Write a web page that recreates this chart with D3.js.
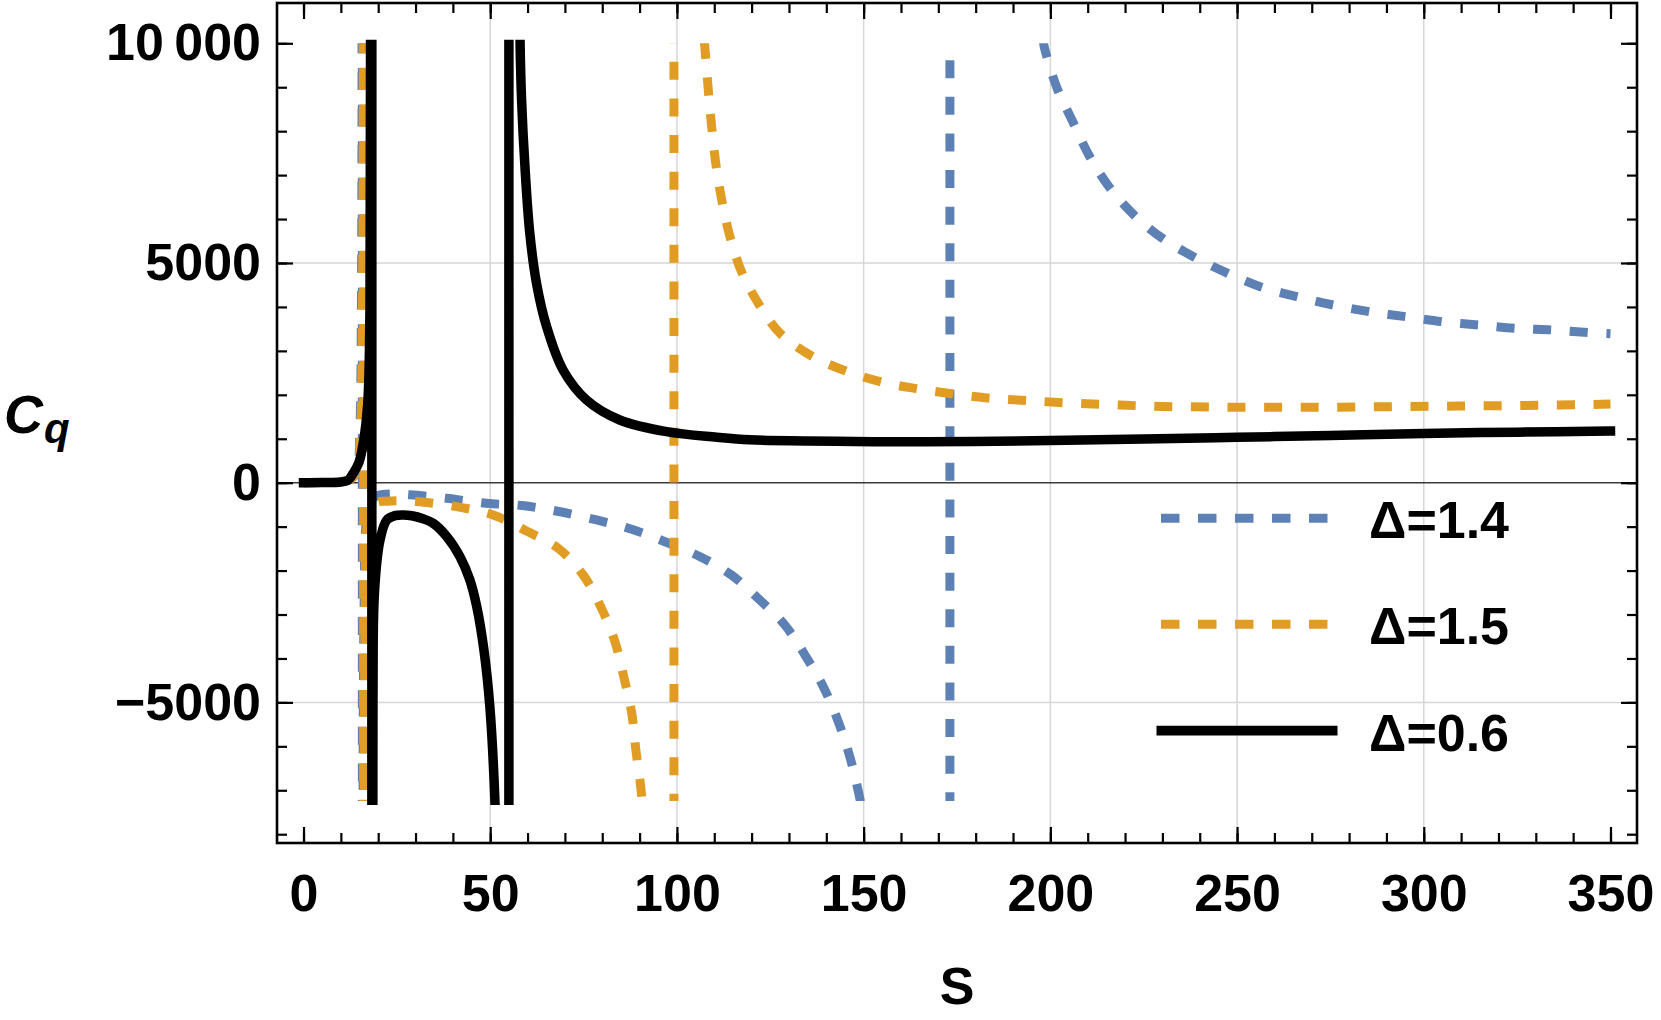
<!DOCTYPE html>
<html>
<head>
<meta charset="utf-8">
<script src="https://cdn.jsdelivr.net/npm/d3@7"></script>
<style>
  html, body { margin: 0; padding: 0; background: #fff; }
  svg text { font-family: "Liberation Sans", Arial, sans-serif; font-weight: bold; fill: #000; }
</style>
</head>
<body>
<svg id="chart" width="1661" height="1020"></svg>
<script>
// ---------------- data ----------------
const xMajorTicks = [0, 50, 100, 150, 200, 250, 300, 350];
const xMinorTicks = d3.range(0, 360, 10);
const yMajorTicks = [-5000, 0, 5000, 10000];
const yTickLabels = ["\u22125000", "0", "5000", "10\u2009000"];
const yMinorTicks = d3.range(-8000, 11000, 1000);
const xGrid = [50, 100, 150, 200, 250, 300];
const yGrid = [-5000, 5000];

const seriesNames = ["\u0394=1.4", "\u0394=1.5", "\u0394=0.6"];
const seriesColors = ["#5E81B5", "#E19C24", "#000000"];

// Δ = 1.4  (values beyond the plot range are clipped, as in the original)
const delta14 = [
  [0,0],[5,3],[10,25],[13,100],[14.5,380],[15.1,1200],[15.5,4000],[15.7,20000],
  [15.75,60000],[15.75,20000],[15.75,-20000],[15.75,-60000],
  [15.9,-20000],[16.2,-3000],[16.8,-900],[17.8,-450],[19.6,-300],[24,-255],[28.5,-275],
  [38.3,-355],[49,-469],[58.5,-520],[68,-650],[78.5,-849],[87.9,-1061],[96.8,-1343],[106.2,-1684],
  [114.6,-2101],[122.2,-2670],[128.9,-3239],[134.3,-3922],[139.2,-4643],[143.2,-5439],[146.3,-6237],
  [148.6,-7033],[150.3,-7800],[153,-9500],[160,-14000],
  [173.1,-60000],[173.1,-20000],[173.1,20000],[173.1,60000],
  [190,20000],[198.2,10000],[198.8,9773],[201.8,8977],[206,8217],[210.3,7458],
  [215.7,6737],[222.4,6093],[230,5563],[238.3,5144],[247.5,4766],[256.2,4461],[266,4233],
  [275.7,4044],[285.5,3892],[295.2,3778],[305,3664],[314.7,3589],[324.5,3514],[334.7,3475],
  [344.5,3414],[350,3390]
];

// Δ = 1.5
const delta15 = [
  [0,0],[5,3],[10,25],[13,100],[14.5,350],[15.3,1200],[15.8,4000],[16.05,20000],
  [16.1,60000],[16.1,20000],[16.1,-20000],[16.1,-60000],
  [16.2,-20000],[16.5,-3000],[17,-1000],[18,-600],[19.5,-450],[22.3,-420],[26,-410],
  [31.2,-435],[41,-546],[50.8,-735],[59.7,-1100],[68.2,-1493],[74.9,-2101],[79.8,-2859],[83.4,-3619],
  [85.8,-4430],[87.9,-5249],[89,-6084],[90.3,-6919],[91,-7600],[92.5,-10000],[95,-16000],
  [99.2,-60000],[99.2,-20000],[99.2,20000],[99.2,60000],
  [104,20000],[107.1,10300],[107.5,9887],[108.4,8938],[109.3,8103],[110.4,7269],
  [112,6434],[114.2,5599],[117.3,4802],[121.8,4083],[127.6,3400],[135.6,2906],[144.5,2565],
  [154.4,2299],[164.2,2140],[174,2020],[183.8,1921],[193.6,1870],[203.5,1821],[213.5,1784],
  [223.2,1753],[233.1,1730],[243,1723],[253,1716],[263,1716],[272.7,1716],[282.5,1723],
  [292.6,1730],[302.5,1738],[312.3,1746],[322.1,1753],[331.8,1761],[342,1776],[350,1790]
];

// Δ = 0.6
const delta06 = [
  [0,0],[5,2],[10,15],[12,60],[13.3,213],[14.8,450],[16,900],[17.2,1800],[17.8,4000],[18.2,20000],
  [18.3,60000],[18.3,20000],[18.3,-20000],[18.3,-60000],
  [18.4,-20000],[18.6,-5000],[19,-2500],[20.5,-1300],[22.3,-850],[24.5,-750],
  [26.7,-735],[29,-752],[32,-820],[34.7,-924],[38.5,-1240],[41.9,-1684],[44.5,-2200],[46.4,-2822],[48.3,-3800],
  [49.9,-5098],[51.3,-7335],[52.5,-12000],[54,-25000],
  [55,-60000],[55,-20000],[55,20000],[55,60000],
  [57,30000],[57.6,15000],[58,10000],[58.4,8708],[59.3,7193],[60.6,5676],[62.4,4538],
  [65.1,3551],[69.5,2565],[75.8,1882],[84.7,1427],[97.2,1161],[110.6,1035],[119.5,975],[135,950],
  [152.6,933],[165,930],[179.3,935],[200,962],[225,995],[250,1033],[275,1075],[300,1122],
  [325,1150],[350,1177]
];
const seriesData = [delta14, delta15, delta06];

// ---------------- layout ----------------
const svg = d3.select("#chart");
const frame = { left: 277, right: 1637, top: 3, bottom: 843 };
const xDomain = [-7.1, 357.1];
const yDomain = [-8200, 10917];
const clipRange = [-7335, 10000];

const x = d3.scaleLinear().domain(xDomain).range([frame.left, frame.right]);
const y = d3.scaleLinear().domain(yDomain).range([frame.bottom, frame.top]);

// grid lines
const grid = svg.append("g");
grid.selectAll("line.gx").data(xGrid).join("line")
  .attr("x1", d => x(d)).attr("x2", d => x(d))
  .attr("y1", frame.top).attr("y2", frame.bottom)
  .attr("stroke", "#d6d6d6").attr("stroke-width", 1.5);
grid.selectAll("line.gy").data(yGrid).join("line")
  .attr("y1", d => y(d)).attr("y2", d => y(d))
  .attr("x1", frame.left).attr("x2", frame.right)
  .attr("stroke", "#d6d6d6").attr("stroke-width", 1.5);

// zero axis
svg.append("line")
  .attr("x1", frame.left).attr("x2", frame.right)
  .attr("y1", y(0)).attr("y2", y(0))
  .attr("stroke", "#3a3a3a").attr("stroke-width", 1.5);

// clips: solid line keeps its square cap, dashed lines cut at the range
const defs = svg.append("defs");
defs.append("clipPath").attr("id", "clipSolid").append("rect")
  .attr("x", frame.left).attr("width", frame.right - frame.left)
  .attr("y", y(clipRange[1]) - 3.5)
  .attr("height", y(clipRange[0]) - y(clipRange[1]) + 3.5);
defs.append("clipPath").attr("id", "clipDashed").append("rect")
  .attr("x", frame.left).attr("width", frame.right - frame.left)
  .attr("y", y(clipRange[1]))
  .attr("height", y(clipRange[0]) - y(clipRange[1]) - 4);

const line = d3.line().x(d => x(d[0])).y(d => y(d[1])).curve(d3.curveCatmullRom.alpha(0.5));
const curves = svg.append("g");
seriesData.forEach((data, i) => {
  const solid = i === 2;
  curves.append("path")
    .attr("clip-path", solid ? "url(#clipSolid)" : "url(#clipDashed)")
    .attr("d", line(data))
    .attr("fill", "none")
    .attr("stroke", seriesColors[i])
    .attr("stroke-width", solid ? 9.5 : 9)
    .attr("stroke-linejoin", "round")
    .attr("stroke-linecap", solid ? "square" : "butt")
    .attr("stroke-dasharray", solid ? null : "18,18.6");
});

// ---------------- axes (frame with inward ticks) ----------------
function styleAxis(g) {
  g.select(".domain").remove();
  g.selectAll(".tick line").attr("stroke", "#000").attr("stroke-width", 2.2);
  g.selectAll(".tick text").attr("font-size", 52).attr("fill", "#000")
    .attr("font-family", "'Liberation Sans', Arial, sans-serif").attr("font-weight", "bold");
}
const H = frame.bottom - frame.top, W = frame.right - frame.left;

// bottom
svg.append("g").attr("transform", `translate(0,${frame.bottom})`)
  .call(d3.axisBottom(x).tickValues(xMinorTicks).tickSize(-10).tickFormat(""))
  .call(styleAxis);
svg.append("g").attr("transform", `translate(0,${frame.bottom})`)
  .call(d3.axisBottom(x).tickValues(xMajorTicks).tickSize(-16).tickPadding(31).tickFormat(d3.format("d")))
  .call(styleAxis);
// top
svg.append("g").attr("transform", `translate(0,${frame.top})`)
  .call(d3.axisTop(x).tickValues(xMinorTicks).tickSize(-10).tickFormat(""))
  .call(styleAxis);
svg.append("g").attr("transform", `translate(0,${frame.top})`)
  .call(d3.axisTop(x).tickValues(xMajorTicks).tickSize(-16).tickFormat(""))
  .call(styleAxis);
// left
svg.append("g").attr("transform", `translate(${frame.left},0)`)
  .call(d3.axisLeft(y).tickValues(yMinorTicks).tickSize(-10).tickFormat(""))
  .call(styleAxis);
svg.append("g").attr("transform", `translate(${frame.left},0)`)
  .call(d3.axisLeft(y).tickValues(yMajorTicks).tickSize(-16).tickPadding(16)
    .tickFormat((d, i) => yTickLabels[i]))
  .call(styleAxis);
// right
svg.append("g").attr("transform", `translate(${frame.right},0)`)
  .call(d3.axisRight(y).tickValues(yMinorTicks).tickSize(-10).tickFormat(""))
  .call(styleAxis);
svg.append("g").attr("transform", `translate(${frame.right},0)`)
  .call(d3.axisRight(y).tickValues(yMajorTicks).tickSize(-16).tickFormat(""))
  .call(styleAxis);

// frame
svg.append("rect")
  .attr("x", frame.left).attr("y", frame.top).attr("width", W).attr("height", H)
  .attr("fill", "none").attr("stroke", "#000").attr("stroke-width", 2.6);

// axis titles
svg.append("text")
  .attr("x", (frame.left + frame.right) / 2).attr("y", 1004)
  .attr("text-anchor", "middle").attr("font-size", 52).text("S");
const cq = svg.append("text").attr("x", 4).attr("y", 433).attr("font-style", "italic");
cq.append("tspan").attr("font-size", 54).text("C");
cq.append("tspan").attr("font-size", 42).attr("dy", 10).attr("dx", 1).text("q");

// ---------------- legend ----------------
const legendRows = [518.3, 624.3, 730.7];
const legend = svg.append("g");
seriesNames.forEach((name, i) => {
  const isSolid = i === 2;
  legend.append("line")
    .attr("x1", isSolid ? 1156.5 : 1161).attr("x2", isSolid ? 1337.5 : 1328)
    .attr("y1", legendRows[i]).attr("y2", legendRows[i])
    .attr("stroke", seriesColors[i]).attr("stroke-width", isSolid ? 9.7 : 9)
    .attr("stroke-dasharray", isSolid ? null : "18.5,18.5");
  legend.append("text")
    .attr("x", 1369).attr("y", legendRows[i] + 20)
    .attr("font-size", 52).text(name);
});
</script>
</body>
</html>
